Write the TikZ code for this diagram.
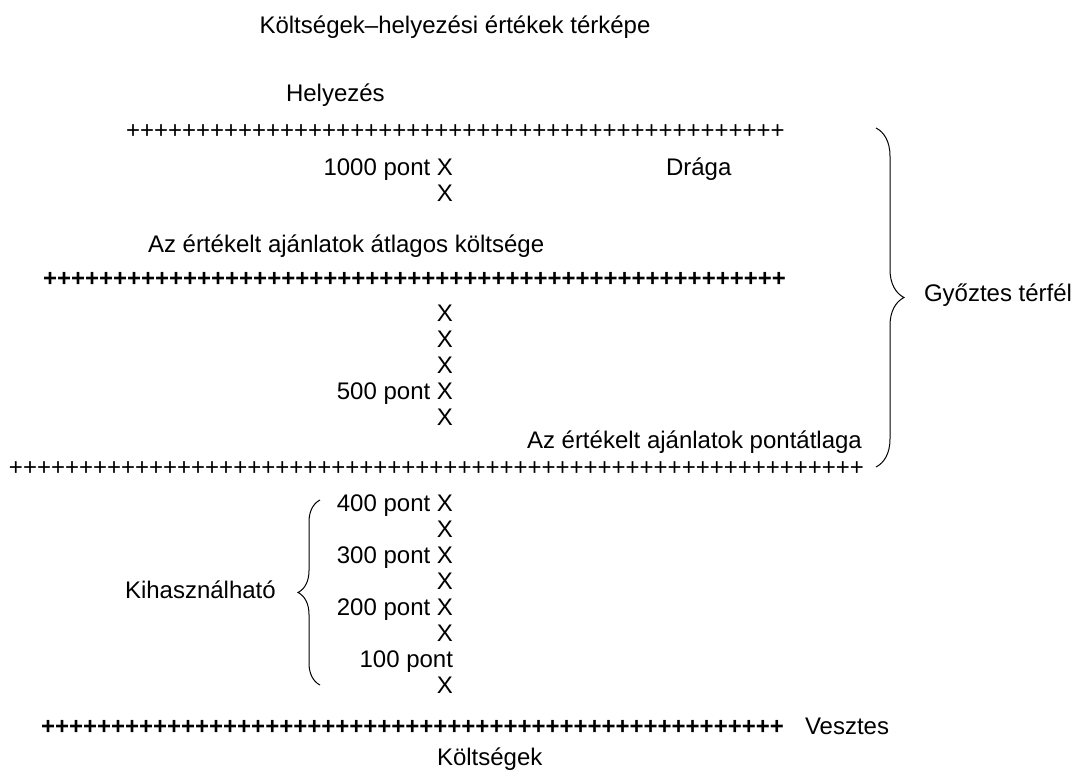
\documentclass[tikz,border=0pt]{standalone}
\usepackage{fontspec}
\setmainfont{Liberation Sans}
\usetikzlibrary{decorations.pathreplacing}

% a run of plus signs, used for the scale lines
\newcount\plusn
\newcommand\plusrun[1]{\plusn=#1\relax\loop\ifnum\plusn>0 +\advance\plusn-1\repeat}

\tikzset{
  lbl/.style={inner sep=0pt, outer sep=0pt, font=\fontsize{24}{28}\selectfont},
  scaleline/.style={lbl, anchor=base west},
  boldline/.style={scaleline, font=\fontsize{24}{28}\selectfont\bfseries},
  colx/.style={lbl, anchor=base east},
  bracepath/.style={line width=1pt, decorate, decoration={brace, amplitude=#1}},
}

\begin{document}
\begin{tikzpicture}[x=1pt, y=-1pt]
\useasboundingbox (0,0) rectangle (1074,771);

% titles
\node[lbl, anchor=base] (title) at (455,33) {Költségek–helyezési értékek térképe};
\node[lbl, anchor=base west] (helyezes) at (286,101) {Helyezés};

% top scale line
\node[scaleline] (line1) at (126,138.6) {\plusrun{47}};
\node[colx] (p1000) at (453,175) {1000 pont X};
\node[lbl, anchor=base west] (draga) at (666,175) {Drága};
\node[colx] (x1) at (453,201) {X};

% average cost line
\node[lbl, anchor=base west] (atlag) at (148,252) {Az értékelt ajánlatok átlagos költsége};
\node[boldline] (line2) at (43,286.6) {\plusrun{53}};
\node[colx] (x2) at (453,321) {X};
\node[colx] (x3) at (453,347) {X};
\node[colx] (x4) at (453,373) {X};
\node[colx] (p500) at (453,399) {500 pont X};
\node[colx] (x5) at (453,425) {X};

% average score line
\node[lbl, anchor=base west] (pontatlag) at (527,448) {Az értékelt ajánlatok pontátlaga};
\node[scaleline] (line3) at (9,475) {\plusrun{61}};

% exploitable range
\node[colx] (p400) at (453,511) {400 pont X};
\node[colx] (x6) at (453,537) {X};
\node[colx] (p300) at (453,563) {300 pont X};
\node[colx] (x7) at (453,589) {X};
\node[colx] (p200) at (453,615) {200 pont X};
\node[colx] (x8) at (453,641) {X};
\node[colx] (p100) at (453,667) {100 pont};
\node[colx] (x9) at (453,693) {X};
\node[lbl, anchor=base west] (kihasz) at (125,598) {Kihasználható};

% bottom scale line
\node[boldline] (line4) at (41,734.6) {\plusrun{53}};
\node[lbl, anchor=base west] (vesztes) at (805,734) {Vesztes};
\node[lbl, anchor=base west] (koltsegek) at (437,765) {Költségek};

% winning half brace
\coordinate (wtop) at (876,128);
\coordinate (wbot) at (876,467);
\draw[bracepath=28] (wtop) -- (wbot);
\node[lbl, anchor=base west] (gyoztes) at (924,301) {Győztes térfél};

% exploitable brace
\coordinate (ktop) at (320,500);
\coordinate (kbot) at (320,685);
\draw[bracepath=22] (kbot) -- (ktop);

\end{tikzpicture}
\end{document}
